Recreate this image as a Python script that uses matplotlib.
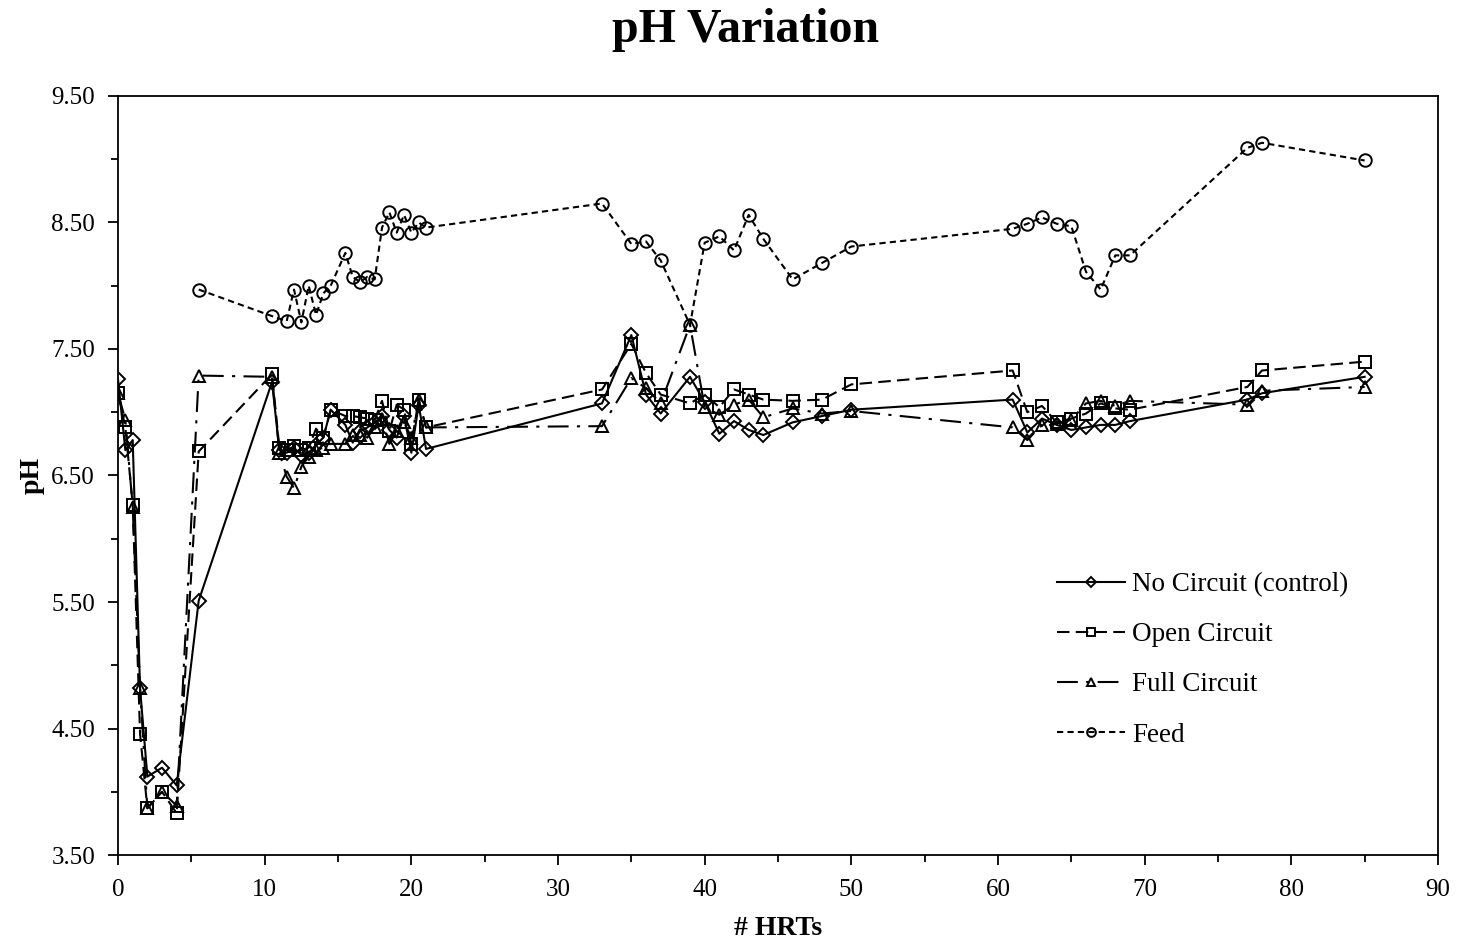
import matplotlib
matplotlib.use("Agg")
import numpy as np
import matplotlib.pyplot as plt
from matplotlib.ticker import MultipleLocator, FixedLocator, FormatStrFormatter

plt.rcParams['font.family'] = ['Liberation Serif', 'DejaVu Serif']

# HRT sample points shared by the three reactors
hrt = [0, 0.5, 1, 1.5, 2, 3, 4, 5.5, 10.5,
       11, 11.5, 12, 12.5, 13, 13.5, 14, 14.5, 15.5, 16, 16.5, 17, 17.5, 18, 18.5, 19, 19.5, 20, 20.5, 21,
       33, 35, 36, 37, 39, 40, 41, 42, 43, 44, 46, 48, 50,
       61, 62, 63, 64, 65, 66, 67, 68, 69, 77, 78, 85]

no_circuit = [7.26, 6.70, 6.78, 4.82, 4.12, 4.19, 4.05, 5.51, 7.24,
              6.70, 6.68, 6.72, 6.66, 6.68, 6.74, 6.80, 7.02, 6.90, 6.76, 6.85, 6.88, 6.92, 6.97, 6.86, 6.80, 6.97, 6.68, 7.06, 6.71,
              7.07, 7.61, 7.14, 6.99, 7.28, 7.08, 6.83, 6.93, 6.86, 6.82, 6.92, 6.97, 7.02,
              7.10, 6.84, 6.95, 6.90, 6.86, 6.88, 6.90, 6.90, 6.93, 7.10, 7.15, 7.28]

open_circuit = [7.15, 6.88, 6.27, 4.46, 3.87, 4.00, 3.83, 6.69, 7.30,
                6.72, 6.70, 6.73, 6.70, 6.72, 6.87, 6.80, 7.02, 6.97, 6.97, 6.96, 6.95, 6.94, 7.09, 6.85, 7.06, 7.02, 6.75, 7.10, 6.88,
                7.18, 7.54, 7.31, 7.14, 7.07, 7.14, 7.04, 7.18, 7.14, 7.10, 7.09, 7.10, 7.22,
                7.33, 7.00, 7.05, 6.92, 6.95, 6.99, 7.07, 7.03, 7.02, 7.20, 7.33, 7.40]

full_circuit = [7.15, 6.94, 6.25, 4.82, 3.87, 4.00, 3.89, 7.29, 7.28,
                6.68, 6.49, 6.40, 6.57, 6.65, 6.70, 6.72, 6.75, 6.75, 6.82, 6.82, 6.80, 6.88, 6.95, 6.75, 6.85, 6.92, 6.80, 7.10, 6.88,
                6.89, 7.27, 7.19, 7.07, 7.69, 7.04, 6.98, 7.06, 7.10, 6.96, 7.03, 6.99, 7.01,
                6.88, 6.78, 6.90, 6.91, 6.94, 7.07, 7.09, 7.05, 7.09, 7.06, 7.17, 7.20]

feed_hrt = [5.5, 10.5, 11.5, 12, 12.5, 13, 13.5, 14, 14.5, 15.5, 16, 16.5, 17, 17.5, 18, 18.5, 19, 19.5, 20, 20.5, 21,
            33, 35, 36, 37, 39, 40, 41, 42, 43, 44, 46, 48, 50,
            61, 62, 63, 64, 65, 66, 67, 68, 69, 77, 78, 85]
feed = [7.97, 7.76, 7.72, 7.97, 7.71, 8.00, 7.77, 7.94, 8.00, 8.26, 8.07, 8.03, 8.07, 8.05, 8.46, 8.58, 8.42, 8.56, 8.42, 8.50, 8.46,
        8.65, 8.33, 8.35, 8.20, 7.69, 8.34, 8.39, 8.28, 8.56, 8.37, 8.05, 8.18, 8.31,
        8.45, 8.49, 8.54, 8.49, 8.47, 8.11, 7.97, 8.24, 8.24, 9.09, 9.13, 8.99]

fig = plt.figure(figsize=(14.59, 9.40), dpi=100)
ax = fig.add_axes([0.0809, 0.0904, 0.9047, 0.8075])

lw = 1.5
ax.plot(hrt, no_circuit, color='black', lw=lw, ls='-', marker='D', ms=7,
        mfc='none', mec='black', mew=1.4, label='No Circuit (control)')
ax.plot(hrt, open_circuit, color='black', lw=lw, ls=(0, (6, 3)), marker='s', ms=9,
        mfc='none', mec='black', mew=1.4, label='Open Circuit')
ax.plot(hrt, full_circuit, color='black', lw=lw, ls=(0, (10, 4, 1.5, 4)), marker='^', ms=9,
        mfc='none', mec='black', mew=1.4, label='Full Circuit')
ax.plot(feed_hrt, feed, color='black', lw=lw, ls=(0, (3, 2)), marker='o', ms=9,
        mfc='none', mec='black', mew=1.4, label='Feed')

ax.set_xlim(0, 90)
ax.set_ylim(3.5, 9.5)
ax.xaxis.set_major_locator(MultipleLocator(10))
ax.xaxis.set_minor_locator(MultipleLocator(5))
ax.yaxis.set_major_locator(FixedLocator(np.arange(3.5, 9.51, 1.0)))
ax.yaxis.set_minor_locator(FixedLocator(np.arange(4.0, 9.1, 1.0)))
ax.yaxis.set_major_formatter(FormatStrFormatter('%.2f'))
ax.tick_params(which='both', direction='out', width=1.3, labelsize=18, top=False, right=False)
ax.tick_params(which='major', length=7)
ax.tick_params(which='minor', length=5)
ax.tick_params(axis='x', which='major', pad=10)
ax.tick_params(axis='y', which='major', pad=9.5)
for s in ax.spines.values():
    s.set_linewidth(1.3)

ax.set_xlabel('# HRTs', fontsize=20, fontweight='bold', labelpad=11)
ax.set_ylabel('pH', fontsize=20, fontweight='bold', labelpad=5)
fig.text(0.511, 0.968, 'pH Variation', fontsize=34.5, fontweight='bold',
         ha='center', va='center')

leg = ax.legend(loc='upper left', bbox_to_anchor=(0.693, 0.405), frameon=False, fontsize=19.5,
                handlelength=2.5, handletextpad=0.26, labelspacing=0.93, markerscale=0.7)

fig.savefig('out.png', dpi=100)
